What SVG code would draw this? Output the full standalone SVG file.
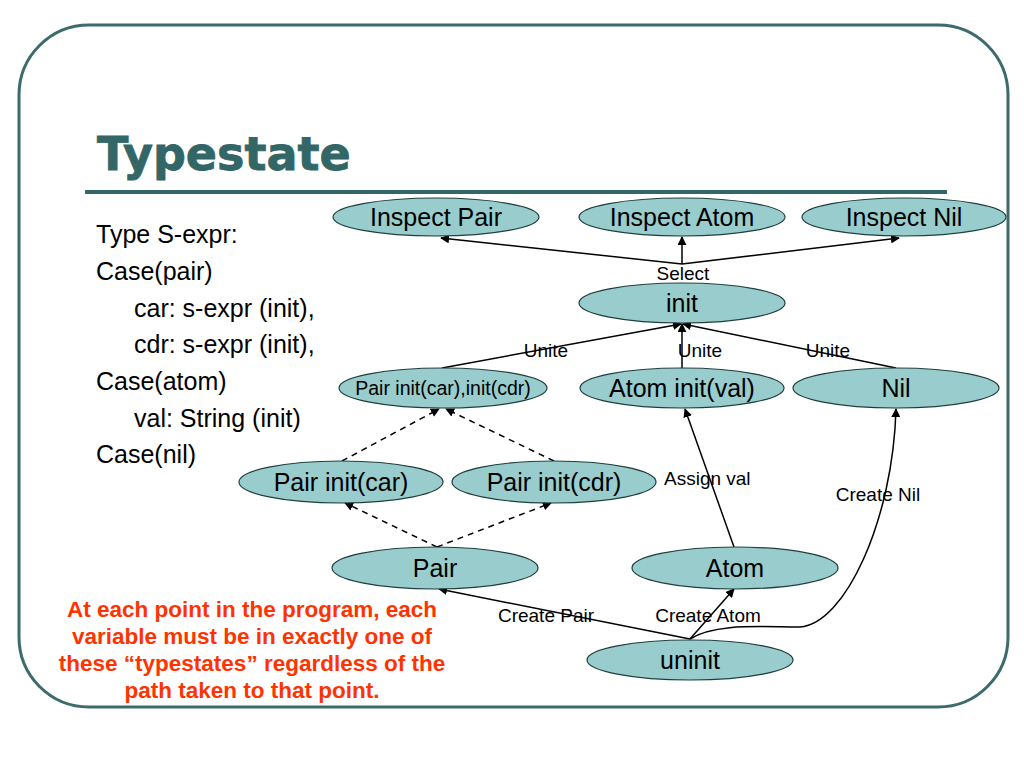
<svg xmlns="http://www.w3.org/2000/svg" width="1024" height="768" viewBox="0 0 1024 768">
<defs>
<style>
.node ellipse{fill:#99cccc;stroke:#1f3f3f;stroke-width:1.2}
.nt{font-family:"Liberation Sans",Arial,sans-serif;font-size:25px;fill:#000;text-anchor:middle}
.lbl{font-family:"Liberation Sans",Arial,sans-serif;font-size:19px;fill:#000}
.body{font-family:"Liberation Sans",Arial,sans-serif;font-size:25px;fill:#000}
.edge{stroke:#000;stroke-width:1.5;fill:none;marker-end:url(#arr)}
.dash{stroke-dasharray:6 5}
.red{font-family:"Liberation Sans",Arial,sans-serif;font-size:22.5px;font-weight:bold;fill:#ff3300;text-anchor:middle}
</style>
<marker id="arr" viewBox="0 0 10 10" refX="9" refY="5" markerWidth="9" markerHeight="9" markerUnits="userSpaceOnUse" orient="auto">
<path d="M0,0 L10,5 L0,10 z" fill="#000"/>
</marker>
</defs>
<rect width="1024" height="768" fill="#fff"/>
<rect x="19" y="25" width="989" height="682" rx="70" ry="70" fill="none" stroke="#3d6b6b" stroke-width="3"/>
<text x="97" y="170" font-family="DejaVu Sans,Verdana,sans-serif" font-weight="bold" font-size="46" fill="#336666" stroke="#336666" stroke-width="0.8">Typestate</text>
<rect x="85" y="190" width="862" height="4" fill="#336666"/>

<g id="body-text" class="body">
<text x="96" y="243">Type S-expr:</text>
<text x="96" y="280">Case(pair)</text>
<text x="134" y="317">car: s-expr (init),</text>
<text x="134" y="353">cdr: s-expr (init),</text>
<text x="96" y="390">Case(atom)</text>
<text x="134" y="427">val: String (init)</text>
<text x="96" y="463">Case(nil)</text>
</g>

<g id="note">
<text class="red" x="252" y="617">At each point in the program, each</text>
<text class="red" x="252" y="644">variable must be in exactly one of</text>
<text class="red" x="252" y="671">these “typestates” regardless of the</text>
<text class="red" x="252" y="698">path taken to that point.</text>
</g>

<g id="connectors">
<line class="edge" x1="682" y1="264" x2="441" y2="238"/>
<line class="edge" x1="682" y1="264" x2="682" y2="237"/>
<line class="edge" x1="682" y1="264" x2="899" y2="238"/>
<line class="edge" x1="442" y1="368" x2="681" y2="324"/>
<line class="edge" x1="682" y1="368" x2="682" y2="324"/>
<line class="edge" x1="896" y1="368" x2="683" y2="324"/>
<line class="edge dash" x1="342" y1="461" x2="439" y2="409"/>
<line class="edge dash" x1="554" y1="461" x2="446" y2="409"/>
<line class="edge dash" x1="437" y1="547" x2="345" y2="503"/>
<line class="edge dash" x1="437" y1="547" x2="551" y2="503"/>
<line class="edge" x1="734" y1="547" x2="685" y2="409"/>
<line class="edge" x1="690" y1="639" x2="439" y2="589"/>
<line class="edge" x1="690" y1="639" x2="734" y2="589"/>
<path class="edge" d="M690,639 C715,623 760,627 800,627 C845,624 893,520 896,409"/>
<text class="lbl" x="683" y="280" text-anchor="middle">Select</text>
<text class="lbl" x="546" y="357" text-anchor="middle">Unite</text>
<text class="lbl" x="700" y="357" text-anchor="middle">Unite</text>
<text class="lbl" x="828" y="357" text-anchor="middle">Unite</text>
<text class="lbl" x="664" y="485">Assign val</text>
<text class="lbl" x="878" y="501" text-anchor="middle">Create Nil</text>
<text class="lbl" x="546" y="622" text-anchor="middle">Create Pair</text>
<text class="lbl" x="708" y="622" text-anchor="middle">Create Atom</text>
</g>

<g id="n-inspect-pair" class="node"><ellipse cx="436" cy="217" rx="103" ry="19"/><text class="nt" x="436" y="226">Inspect Pair</text></g>
<g id="n-inspect-atom" class="node"><ellipse cx="682" cy="217" rx="103" ry="19"/><text class="nt" x="682" y="226">Inspect Atom</text></g>
<g id="n-inspect-nil" class="node"><ellipse cx="904" cy="217" rx="102" ry="19"/><text class="nt" x="904" y="226">Inspect Nil</text></g>
<g id="n-init" class="node"><ellipse cx="682" cy="303" rx="103" ry="20"/><text class="nt" x="682" y="312">init</text></g>
<g id="n-pair-init-both" class="node"><ellipse cx="443" cy="388" rx="104" ry="20"/><text class="nt" x="443" y="395" style="font-size:19.5px">Pair init(car),init(cdr)</text></g>
<g id="n-atom-init" class="node"><ellipse cx="682" cy="388" rx="102" ry="20"/><text class="nt" x="682" y="397">Atom init(val)</text></g>
<g id="n-nil" class="node"><ellipse cx="896" cy="388" rx="103" ry="20"/><text class="nt" x="896" y="397">Nil</text></g>
<g id="n-pair-init-car" class="node"><ellipse cx="341" cy="482" rx="102" ry="21"/><text class="nt" x="341" y="491">Pair init(car)</text></g>
<g id="n-pair-init-cdr" class="node"><ellipse cx="554" cy="482" rx="102" ry="21"/><text class="nt" x="554" y="491">Pair init(cdr)</text></g>
<g id="n-pair" class="node"><ellipse cx="435" cy="568" rx="103" ry="21"/><text class="nt" x="435" y="577">Pair</text></g>
<g id="n-atom" class="node"><ellipse cx="735" cy="568" rx="103" ry="21"/><text class="nt" x="735" y="577">Atom</text></g>
<g id="n-uninit" class="node"><ellipse cx="690" cy="660" rx="103" ry="20"/><text class="nt" x="690" y="669">uninit</text></g>
</svg>
